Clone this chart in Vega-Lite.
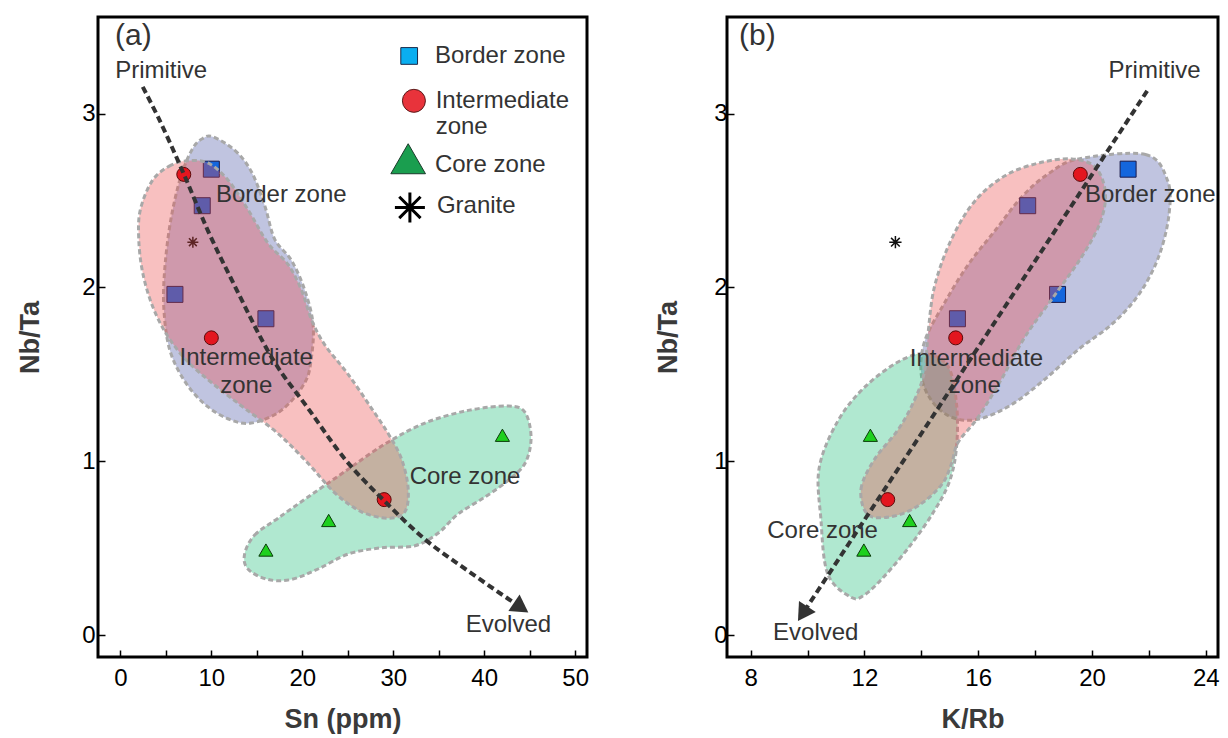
{
  "$schema": "https://vega.github.io/schema/vega-lite/v6.json",
  "padding": {"left": 15, "top": 15, "right": 10, "bottom": 8},
  "autosize": {"type": "pad"},
  "spacing": 62,
  "config": {
    "font": "Liberation Sans",
    "view": {"stroke": "#000", "strokeWidth": 3},
    "axis": {
      "domain": false, "grid": false,
      "tickColor": "#000", "tickWidth": 1.5, "tickSize": -7,
      "labelFont": "Liberation Sans", "labelFontSize": 24, "labelColor": "#000",
      "labelFlush": false, "labelOverlap": false, "labelBound": false,
      "titleFont": "Liberation Sans", "titleFontSize": 27, "titleFontWeight": "bold", "titleColor": "#3a3a3a"
    }
  },
  "datasets": {
    "samples": [
      {"zone": "Border zone", "Sn": 10, "KRb": 21.27, "NbTa": 2.68},
      {"zone": "Border zone", "Sn": 9, "KRb": 17.74, "NbTa": 2.47},
      {"zone": "Border zone", "Sn": 6, "KRb": 18.79, "NbTa": 1.96},
      {"zone": "Border zone", "Sn": 16, "KRb": 15.27, "NbTa": 1.82},
      {"zone": "Intermediate zone", "Sn": 6.97, "KRb": 19.59, "NbTa": 2.65},
      {"zone": "Intermediate zone", "Sn": 10, "KRb": 15.21, "NbTa": 1.71},
      {"zone": "Intermediate zone", "Sn": 29, "KRb": 12.82, "NbTa": 0.78},
      {"zone": "Core zone", "Sn": 42, "KRb": 12.21, "NbTa": 1.15},
      {"zone": "Core zone", "Sn": 22.9, "KRb": 13.59, "NbTa": 0.66},
      {"zone": "Core zone", "Sn": 16, "KRb": 11.98, "NbTa": 0.49},
      {"zone": "Granite", "Sn": 7.97, "KRb": 13.09, "NbTa": 2.26}
    ],
    "zonesA": [
      {"zone": "Border zone", "i": 0, "Sn": 10.17, "NbTa": 2.866},
      {"zone": "Border zone", "i": 1, "Sn": 12.56, "NbTa": 2.789},
      {"zone": "Border zone", "i": 2, "Sn": 14.39, "NbTa": 2.667},
      {"zone": "Border zone", "i": 3, "Sn": 15.86, "NbTa": 2.472},
      {"zone": "Border zone", "i": 4, "Sn": 16.96, "NbTa": 2.278},
      {"zone": "Border zone", "i": 5, "Sn": 18.8, "NbTa": 2.156},
      {"zone": "Border zone", "i": 6, "Sn": 20.26, "NbTa": 1.986},
      {"zone": "Border zone", "i": 7, "Sn": 21.18, "NbTa": 1.791},
      {"zone": "Border zone", "i": 8, "Sn": 21.0, "NbTa": 1.597},
      {"zone": "Border zone", "i": 9, "Sn": 20.26, "NbTa": 1.451},
      {"zone": "Border zone", "i": 10, "Sn": 17.69, "NbTa": 1.293},
      {"zone": "Border zone", "i": 11, "Sn": 14.39, "NbTa": 1.22},
      {"zone": "Border zone", "i": 12, "Sn": 11.82, "NbTa": 1.245},
      {"zone": "Border zone", "i": 13, "Sn": 9.25, "NbTa": 1.33},
      {"zone": "Border zone", "i": 14, "Sn": 7.05, "NbTa": 1.463},
      {"zone": "Border zone", "i": 15, "Sn": 5.4, "NbTa": 1.646},
      {"zone": "Border zone", "i": 16, "Sn": 4.77, "NbTa": 1.889},
      {"zone": "Border zone", "i": 17, "Sn": 4.92, "NbTa": 2.132},
      {"zone": "Border zone", "i": 18, "Sn": 5.58, "NbTa": 2.399},
      {"zone": "Border zone", "i": 19, "Sn": 6.68, "NbTa": 2.643},
      {"zone": "Border zone", "i": 20, "Sn": 7.97, "NbTa": 2.801},
      {"zone": "Border zone", "i": 21, "Sn": 9.07, "NbTa": 2.857},
      {"zone": "Intermediate zone", "i": 0, "Sn": 7.42, "NbTa": 2.728},
      {"zone": "Intermediate zone", "i": 1, "Sn": 5.58, "NbTa": 2.703},
      {"zone": "Intermediate zone", "i": 2, "Sn": 3.56, "NbTa": 2.618},
      {"zone": "Intermediate zone", "i": 3, "Sn": 2.2, "NbTa": 2.448},
      {"zone": "Intermediate zone", "i": 4, "Sn": 2.02, "NbTa": 2.278},
      {"zone": "Intermediate zone", "i": 5, "Sn": 2.46, "NbTa": 2.083},
      {"zone": "Intermediate zone", "i": 6, "Sn": 3.56, "NbTa": 1.889},
      {"zone": "Intermediate zone", "i": 7, "Sn": 5.21, "NbTa": 1.719},
      {"zone": "Intermediate zone", "i": 8, "Sn": 7.42, "NbTa": 1.573},
      {"zone": "Intermediate zone", "i": 9, "Sn": 10.35, "NbTa": 1.439},
      {"zone": "Intermediate zone", "i": 10, "Sn": 13.66, "NbTa": 1.305},
      {"zone": "Intermediate zone", "i": 11, "Sn": 17.33, "NbTa": 1.16},
      {"zone": "Intermediate zone", "i": 12, "Sn": 20.63, "NbTa": 0.989},
      {"zone": "Intermediate zone", "i": 13, "Sn": 23.57, "NbTa": 0.819},
      {"zone": "Intermediate zone", "i": 14, "Sn": 26.51, "NbTa": 0.71},
      {"zone": "Intermediate zone", "i": 15, "Sn": 29.44, "NbTa": 0.673},
      {"zone": "Intermediate zone", "i": 16, "Sn": 31.28, "NbTa": 0.71},
      {"zone": "Intermediate zone", "i": 17, "Sn": 31.64, "NbTa": 0.843},
      {"zone": "Intermediate zone", "i": 18, "Sn": 30.91, "NbTa": 1.014},
      {"zone": "Intermediate zone", "i": 19, "Sn": 29.44, "NbTa": 1.16},
      {"zone": "Intermediate zone", "i": 20, "Sn": 27.61, "NbTa": 1.305},
      {"zone": "Intermediate zone", "i": 21, "Sn": 25.04, "NbTa": 1.5},
      {"zone": "Intermediate zone", "i": 22, "Sn": 22.47, "NbTa": 1.67},
      {"zone": "Intermediate zone", "i": 23, "Sn": 21.0, "NbTa": 1.816},
      {"zone": "Intermediate zone", "i": 24, "Sn": 19.9, "NbTa": 1.986},
      {"zone": "Intermediate zone", "i": 25, "Sn": 18.43, "NbTa": 2.132},
      {"zone": "Intermediate zone", "i": 26, "Sn": 16.23, "NbTa": 2.254},
      {"zone": "Intermediate zone", "i": 27, "Sn": 14.02, "NbTa": 2.448},
      {"zone": "Intermediate zone", "i": 28, "Sn": 11.82, "NbTa": 2.618},
      {"zone": "Intermediate zone", "i": 29, "Sn": 9.62, "NbTa": 2.716},
      {"zone": "Core zone", "i": 0, "Sn": 13.66, "NbTa": 0.467},
      {"zone": "Core zone", "i": 1, "Sn": 14.76, "NbTa": 0.576},
      {"zone": "Core zone", "i": 2, "Sn": 17.33, "NbTa": 0.673},
      {"zone": "Core zone", "i": 3, "Sn": 20.63, "NbTa": 0.795},
      {"zone": "Core zone", "i": 4, "Sn": 24.67, "NbTa": 0.941},
      {"zone": "Core zone", "i": 5, "Sn": 29.07, "NbTa": 1.099},
      {"zone": "Core zone", "i": 6, "Sn": 33.48, "NbTa": 1.22},
      {"zone": "Core zone", "i": 7, "Sn": 38.25, "NbTa": 1.293},
      {"zone": "Core zone", "i": 8, "Sn": 42.66, "NbTa": 1.318},
      {"zone": "Core zone", "i": 9, "Sn": 44.49, "NbTa": 1.281},
      {"zone": "Core zone", "i": 10, "Sn": 45.15, "NbTa": 1.135},
      {"zone": "Core zone", "i": 11, "Sn": 44.49, "NbTa": 0.989},
      {"zone": "Core zone", "i": 12, "Sn": 42.66, "NbTa": 0.892},
      {"zone": "Core zone", "i": 13, "Sn": 40.09, "NbTa": 0.795},
      {"zone": "Core zone", "i": 14, "Sn": 37.15, "NbTa": 0.698},
      {"zone": "Core zone", "i": 15, "Sn": 34.95, "NbTa": 0.588},
      {"zone": "Core zone", "i": 16, "Sn": 32.38, "NbTa": 0.515},
      {"zone": "Core zone", "i": 17, "Sn": 28.71, "NbTa": 0.503},
      {"zone": "Core zone", "i": 18, "Sn": 25.04, "NbTa": 0.467},
      {"zone": "Core zone", "i": 19, "Sn": 21.73, "NbTa": 0.381},
      {"zone": "Core zone", "i": 20, "Sn": 18.8, "NbTa": 0.321},
      {"zone": "Core zone", "i": 21, "Sn": 16.23, "NbTa": 0.321},
      {"zone": "Core zone", "i": 22, "Sn": 14.02, "NbTa": 0.381}
    ],
    "zonesB": [
      {"zone": "Border zone", "i": 0, "KRb": 19.53, "NbTa": 2.739},
      {"zone": "Border zone", "i": 1, "KRb": 21.88, "NbTa": 2.764},
      {"zone": "Border zone", "i": 2, "KRb": 22.65, "NbTa": 2.618},
      {"zone": "Border zone", "i": 3, "KRb": 22.71, "NbTa": 2.423},
      {"zone": "Border zone", "i": 4, "KRb": 22.35, "NbTa": 2.179},
      {"zone": "Border zone", "i": 5, "KRb": 21.65, "NbTa": 1.96},
      {"zone": "Border zone", "i": 6, "KRb": 20.71, "NbTa": 1.79},
      {"zone": "Border zone", "i": 7, "KRb": 19.53, "NbTa": 1.644},
      {"zone": "Border zone", "i": 8, "KRb": 18.35, "NbTa": 1.473},
      {"zone": "Border zone", "i": 9, "KRb": 17.18, "NbTa": 1.327},
      {"zone": "Border zone", "i": 10, "KRb": 16.0, "NbTa": 1.242},
      {"zone": "Border zone", "i": 11, "KRb": 15.06, "NbTa": 1.254},
      {"zone": "Border zone", "i": 12, "KRb": 14.35, "NbTa": 1.352},
      {"zone": "Border zone", "i": 13, "KRb": 14.0, "NbTa": 1.498},
      {"zone": "Border zone", "i": 14, "KRb": 14.12, "NbTa": 1.692},
      {"zone": "Border zone", "i": 15, "KRb": 14.82, "NbTa": 1.912},
      {"zone": "Border zone", "i": 16, "KRb": 15.65, "NbTa": 2.131},
      {"zone": "Border zone", "i": 17, "KRb": 16.59, "NbTa": 2.326},
      {"zone": "Border zone", "i": 18, "KRb": 17.53, "NbTa": 2.52},
      {"zone": "Border zone", "i": 19, "KRb": 18.47, "NbTa": 2.654},
      {"zone": "Intermediate zone", "i": 0, "KRb": 12.12, "NbTa": 0.694},
      {"zone": "Intermediate zone", "i": 1, "KRb": 11.88, "NbTa": 0.84},
      {"zone": "Intermediate zone", "i": 2, "KRb": 12.35, "NbTa": 1.011},
      {"zone": "Intermediate zone", "i": 3, "KRb": 13.18, "NbTa": 1.181},
      {"zone": "Intermediate zone", "i": 4, "KRb": 13.76, "NbTa": 1.352},
      {"zone": "Intermediate zone", "i": 5, "KRb": 14.12, "NbTa": 1.522},
      {"zone": "Intermediate zone", "i": 6, "KRb": 14.24, "NbTa": 1.741},
      {"zone": "Intermediate zone", "i": 7, "KRb": 14.47, "NbTa": 2.009},
      {"zone": "Intermediate zone", "i": 8, "KRb": 15.06, "NbTa": 2.277},
      {"zone": "Intermediate zone", "i": 9, "KRb": 15.88, "NbTa": 2.496},
      {"zone": "Intermediate zone", "i": 10, "KRb": 16.94, "NbTa": 2.642},
      {"zone": "Intermediate zone", "i": 11, "KRb": 18.12, "NbTa": 2.715},
      {"zone": "Intermediate zone", "i": 12, "KRb": 19.29, "NbTa": 2.739},
      {"zone": "Intermediate zone", "i": 13, "KRb": 20.12, "NbTa": 2.691},
      {"zone": "Intermediate zone", "i": 14, "KRb": 20.47, "NbTa": 2.545},
      {"zone": "Intermediate zone", "i": 15, "KRb": 20.29, "NbTa": 2.374},
      {"zone": "Intermediate zone", "i": 16, "KRb": 19.65, "NbTa": 2.179},
      {"zone": "Intermediate zone", "i": 17, "KRb": 18.71, "NbTa": 1.96},
      {"zone": "Intermediate zone", "i": 18, "KRb": 17.65, "NbTa": 1.717},
      {"zone": "Intermediate zone", "i": 19, "KRb": 16.82, "NbTa": 1.473},
      {"zone": "Intermediate zone", "i": 20, "KRb": 16.0, "NbTa": 1.254},
      {"zone": "Intermediate zone", "i": 21, "KRb": 15.29, "NbTa": 1.108},
      {"zone": "Intermediate zone", "i": 22, "KRb": 15.06, "NbTa": 0.986},
      {"zone": "Intermediate zone", "i": 23, "KRb": 14.71, "NbTa": 0.865},
      {"zone": "Intermediate zone", "i": 24, "KRb": 13.88, "NbTa": 0.743},
      {"zone": "Intermediate zone", "i": 25, "KRb": 12.94, "NbTa": 0.682},
      {"zone": "Core zone", "i": 0, "KRb": 11.53, "NbTa": 0.219},
      {"zone": "Core zone", "i": 1, "KRb": 10.71, "NbTa": 0.353},
      {"zone": "Core zone", "i": 2, "KRb": 10.47, "NbTa": 0.67},
      {"zone": "Core zone", "i": 3, "KRb": 10.41, "NbTa": 0.962},
      {"zone": "Core zone", "i": 4, "KRb": 11.06, "NbTa": 1.23},
      {"zone": "Core zone", "i": 5, "KRb": 12.0, "NbTa": 1.425},
      {"zone": "Core zone", "i": 6, "KRb": 13.18, "NbTa": 1.571},
      {"zone": "Core zone", "i": 7, "KRb": 14.12, "NbTa": 1.619},
      {"zone": "Core zone", "i": 8, "KRb": 14.94, "NbTa": 1.546},
      {"zone": "Core zone", "i": 9, "KRb": 15.24, "NbTa": 1.327},
      {"zone": "Core zone", "i": 10, "KRb": 15.24, "NbTa": 1.084},
      {"zone": "Core zone", "i": 11, "KRb": 15.0, "NbTa": 0.889},
      {"zone": "Core zone", "i": 12, "KRb": 14.47, "NbTa": 0.719},
      {"zone": "Core zone", "i": 13, "KRb": 13.65, "NbTa": 0.524},
      {"zone": "Core zone", "i": 14, "KRb": 12.71, "NbTa": 0.341},
      {"zone": "Core zone", "i": 15, "KRb": 12.0, "NbTa": 0.232}
    ],
    "trendA": [
      {"i": 0, "Sn": 2.46, "NbTa": 3.153},
      {"i": 1, "Sn": 4.11, "NbTa": 2.983},
      {"i": 2, "Sn": 7.05, "NbTa": 2.643},
      {"i": 3, "Sn": 9.62, "NbTa": 2.327},
      {"i": 4, "Sn": 12.56, "NbTa": 2.01},
      {"i": 5, "Sn": 16.78, "NbTa": 1.585},
      {"i": 6, "Sn": 20.63, "NbTa": 1.305},
      {"i": 7, "Sn": 24.67, "NbTa": 1.014},
      {"i": 8, "Sn": 29.07, "NbTa": 0.77},
      {"i": 9, "Sn": 33.48, "NbTa": 0.552},
      {"i": 10, "Sn": 38.25, "NbTa": 0.369},
      {"i": 11, "Sn": 44.06, "NbTa": 0.159}
    ],
    "trendB": [
      {"i": 0, "KRb": 21.94, "NbTa": 3.13},
      {"i": 1, "KRb": 9.83, "NbTa": 0.124}
    ],
    "notesA": [
      {"label": "Primitive", "Sn": 4.48, "NbTa": 3.243},
      {"label": "Border zone", "Sn": 17.69, "NbTa": 2.533},
      {"label": "Intermediate", "Sn": 13.84, "NbTa": 1.592},
      {"label": "zone", "Sn": 13.84, "NbTa": 1.434},
      {"label": "Core zone", "Sn": 37.89, "NbTa": 0.911},
      {"label": "Evolved", "Sn": 42.66, "NbTa": 0.058}
    ],
    "notesB": [
      {"label": "Primitive", "KRb": 22.2, "NbTa": 3.243},
      {"label": "Border zone", "KRb": 22.05, "NbTa": 2.533},
      {"label": "Intermediate", "KRb": 15.94, "NbTa": 1.59},
      {"label": "zone", "KRb": 15.88, "NbTa": 1.434},
      {"label": "Core zone", "KRb": 10.53, "NbTa": 0.597},
      {"label": "Evolved", "KRb": 10.29, "NbTa": 0.013}
    ],
    "keyA": [
      {"zone": "Border zone", "Sn": 31.75, "NbTa": 3.331},
      {"zone": "Intermediate zone", "Sn": 32.27, "NbTa": 3.073},
      {"zone": "Core zone", "Sn": 31.64, "NbTa": 2.74},
      {"zone": "Granite", "Sn": 31.83, "NbTa": 2.46}
    ],
    "keyTextA": [
      {"label": "Border zone", "Sn": 34.58, "NbTa": 3.331},
      {"label": "Intermediate", "Sn": 34.66, "NbTa": 3.073},
      {"label": "zone", "Sn": 34.66, "NbTa": 2.922},
      {"label": "Core zone", "Sn": 34.58, "NbTa": 2.703},
      {"label": "Granite", "Sn": 34.8, "NbTa": 2.468}
    ]
  },
  "hconcat": [
    {
      "width": 489,
      "height": 640,
      "encoding": {
        "x": {
          "field": "Sn", "type": "quantitative",
          "scale": {"domain": [-2.46, 51.3], "nice": false, "zero": false},
          "axis": {
            "title": "Sn (ppm)",
            "values": [0, 5, 10, 15, 20, 25, 30, 35, 40, 45, 50],
            "format": "d",
            "labelExpr": "datum.value % 10 === 0 ? datum.label : ''",
            "labelPadding": 16, "titlePadding": 16
          }
        },
        "y": {
          "field": "NbTa", "type": "quantitative",
          "scale": {"domain": [-0.125, 3.555], "nice": false, "zero": false},
          "axis": {
            "title": "Nb/Ta",
            "values": [0, 0.5, 1, 1.5, 2, 2.5, 3],
            "format": "d",
            "labelExpr": "datum.value % 1 === 0 ? datum.label : ''",
            "labelPadding": 10, "titlePadding": 37
          }
        }
      },
      "layer": [
        {
          "data": {"name": "zonesA"},
          "transform": [{"filter": "datum.zone === 'Border zone'"}],
          "mark": {"type": "line", "interpolate": "cardinal-closed", "fill": "#4b56a6", "fillOpacity": 0.35, "stroke": "#a8a8a8", "strokeWidth": 3, "strokeDash": [5, 3]},
          "encoding": {"order": {"field": "i"}}
        },
        {
          "data": {"name": "zonesA"},
          "transform": [{"filter": "datum.zone === 'Core zone'"}],
          "mark": {"type": "line", "interpolate": "cardinal-closed", "fill": "#1dbd79", "fillOpacity": 0.35, "stroke": "#a8a8a8", "strokeWidth": 3, "strokeDash": [5, 3]},
          "encoding": {"order": {"field": "i"}}
        },
        {
          "data": {"name": "samples"},
          "transform": [{"filter": "datum.zone === 'Border zone'"}],
          "mark": {"type": "point", "shape": "square", "filled": true, "fill": "#1466dd", "stroke": "#1a1a4a", "strokeWidth": 1, "size": 256, "opacity": 1}
        },
        {
          "data": {"name": "samples"},
          "transform": [{"filter": "datum.zone === 'Granite'"}],
          "mark": {"type": "point", "shape": "M-1,0L1,0M0,-1L0,1M-0.71,-0.71L0.71,0.71M-0.71,0.71L0.71,-0.71", "filled": false, "stroke": "#111", "strokeWidth": 1.5, "size": 121, "opacity": 1}
        },
        {
          "data": {"name": "zonesA"},
          "transform": [{"filter": "datum.zone === 'Intermediate zone'"}],
          "mark": {"type": "line", "interpolate": "cardinal-closed", "fill": "#eb4b4b", "fillOpacity": 0.35, "stroke": "#a8a8a8", "strokeWidth": 3, "strokeDash": [5, 3]},
          "encoding": {"order": {"field": "i"}}
        },
        {
          "data": {"name": "samples"},
          "transform": [{"filter": "datum.zone === 'Intermediate zone'"}],
          "mark": {"type": "point", "shape": "circle", "filled": true, "fill": "#e3161f", "stroke": "#5a0a0a", "strokeWidth": 1, "size": 196, "opacity": 1}
        },
        {
          "data": {"name": "samples"},
          "transform": [{"filter": "datum.zone === 'Core zone'"}],
          "mark": {"type": "point", "shape": "triangle-up", "filled": true, "fill": "#1ed01e", "stroke": "#0a3a0a", "strokeWidth": 1, "size": 200, "opacity": 1}
        },
        {
          "data": {"name": "trendA"},
          "mark": {"type": "line", "interpolate": "monotone", "stroke": "#333", "strokeWidth": 4, "strokeDash": [7, 4]},
          "encoding": {"order": {"field": "i"}}
        },
        {
          "data": {"name": "trendA"},
          "transform": [{"filter": "datum.i === 11"}],
          "mark": {"type": "point", "shape": "triangle-up", "filled": true, "fill": "#333", "stroke": null, "size": 400, "angle": 124, "opacity": 1}
        },
        {
          "data": {"values": [{"tag": "(a)", "Sn": 1.43, "NbTa": 3.445}]},
          "mark": {"type": "text", "font": "Liberation Sans", "fontSize": 30, "fill": "#333", "align": "center", "baseline": "middle"},
          "encoding": {"text": {"field": "tag"}}
        },
        {
          "data": {"name": "notesA"},
          "mark": {"type": "text", "font": "Liberation Sans", "fontSize": 24, "fill": "#333", "align": "center", "baseline": "middle"},
          "encoding": {"text": {"field": "label"}}
        },
        {
          "data": {"name": "keyA"},
          "transform": [{"filter": "datum.zone === 'Border zone'"}],
          "mark": {"type": "point", "shape": "square", "filled": true, "fill": "#0aaef0", "stroke": "#1a2a4a", "strokeWidth": 1, "size": 280, "opacity": 1}
        },
        {
          "data": {"name": "keyA"},
          "transform": [{"filter": "datum.zone === 'Intermediate zone'"}],
          "mark": {"type": "point", "shape": "circle", "filled": true, "fill": "#e8333b", "stroke": "#5a1a1a", "strokeWidth": 1, "size": 530, "opacity": 1}
        },
        {
          "data": {"name": "keyA"},
          "transform": [{"filter": "datum.zone === 'Core zone'"}],
          "mark": {"type": "point", "shape": "triangle-up", "filled": true, "fill": "#1a9e4f", "stroke": "#1a3a2a", "strokeWidth": 1, "size": 1200, "opacity": 1}
        },
        {
          "data": {"name": "keyA"},
          "transform": [{"filter": "datum.zone === 'Granite'"}],
          "mark": {"type": "point", "shape": "M-1,0L1,0M0,-1L0,1M-0.71,-0.71L0.71,0.71M-0.71,0.71L0.71,-0.71", "filled": false, "stroke": "#000", "strokeWidth": 3, "size": 900, "opacity": 1}
        },
        {
          "data": {"name": "keyTextA"},
          "mark": {"type": "text", "font": "Liberation Sans", "fontSize": 24, "fill": "#333", "align": "left", "baseline": "middle"},
          "encoding": {"text": {"field": "label"}}
        }
      ]
    },
    {
      "width": 491,
      "height": 640,
      "encoding": {
        "x": {
          "field": "KRb", "type": "quantitative",
          "scale": {"domain": [7.17, 24.43], "nice": false, "zero": false},
          "axis": {
            "title": "K/Rb",
            "values": [8, 10, 12, 14, 16, 18, 20, 22, 24],
            "format": "d",
            "labelExpr": "datum.value % 4 === 0 ? datum.label : ''",
            "labelPadding": 16, "titlePadding": 16
          }
        },
        "y": {
          "field": "NbTa", "type": "quantitative",
          "scale": {"domain": [-0.125, 3.555], "nice": false, "zero": false},
          "axis": {
            "title": "Nb/Ta",
            "values": [0, 0.5, 1, 1.5, 2, 2.5, 3],
            "format": "d",
            "labelExpr": "datum.value % 1 === 0 ? datum.label : ''",
            "labelPadding": 7, "titlePadding": 31
          }
        }
      },
      "layer": [
        {
          "data": {"name": "zonesB"},
          "transform": [{"filter": "datum.zone === 'Border zone'"}],
          "mark": {"type": "line", "interpolate": "cardinal-closed", "fill": "#4b56a6", "fillOpacity": 0.35, "stroke": "#a8a8a8", "strokeWidth": 3, "strokeDash": [5, 3]},
          "encoding": {"order": {"field": "i"}}
        },
        {
          "data": {"name": "zonesB"},
          "transform": [{"filter": "datum.zone === 'Core zone'"}],
          "mark": {"type": "line", "interpolate": "cardinal-closed", "fill": "#1dbd79", "fillOpacity": 0.35, "stroke": "#a8a8a8", "strokeWidth": 3, "strokeDash": [5, 3]},
          "encoding": {"order": {"field": "i"}}
        },
        {
          "data": {"name": "samples"},
          "transform": [{"filter": "datum.zone === 'Border zone'"}],
          "mark": {"type": "point", "shape": "square", "filled": true, "fill": "#1466dd", "stroke": "#1a1a4a", "strokeWidth": 1, "size": 256, "opacity": 1}
        },
        {
          "data": {"name": "samples"},
          "transform": [{"filter": "datum.zone === 'Granite'"}],
          "mark": {"type": "point", "shape": "M-1,0L1,0M0,-1L0,1M-0.71,-0.71L0.71,0.71M-0.71,0.71L0.71,-0.71", "filled": false, "stroke": "#111", "strokeWidth": 1.5, "size": 150, "opacity": 1}
        },
        {
          "data": {"name": "zonesB"},
          "transform": [{"filter": "datum.zone === 'Intermediate zone'"}],
          "mark": {"type": "line", "interpolate": "cardinal-closed", "fill": "#eb4b4b", "fillOpacity": 0.35, "stroke": "#a8a8a8", "strokeWidth": 3, "strokeDash": [5, 3]},
          "encoding": {"order": {"field": "i"}}
        },
        {
          "data": {"name": "samples"},
          "transform": [{"filter": "datum.zone === 'Intermediate zone'"}],
          "mark": {"type": "point", "shape": "circle", "filled": true, "fill": "#e3161f", "stroke": "#5a0a0a", "strokeWidth": 1, "size": 196, "opacity": 1}
        },
        {
          "data": {"name": "samples"},
          "transform": [{"filter": "datum.zone === 'Core zone'"}],
          "mark": {"type": "point", "shape": "triangle-up", "filled": true, "fill": "#1ed01e", "stroke": "#0a3a0a", "strokeWidth": 1, "size": 200, "opacity": 1}
        },
        {
          "data": {"name": "trendB"},
          "mark": {"type": "line", "stroke": "#333", "strokeWidth": 4, "strokeDash": [7, 4]},
          "encoding": {"order": {"field": "i"}}
        },
        {
          "data": {"name": "trendB"},
          "transform": [{"filter": "datum.i === 1"}],
          "mark": {"type": "point", "shape": "triangle-up", "filled": true, "fill": "#333", "stroke": null, "size": 400, "angle": 213, "opacity": 1}
        },
        {
          "data": {"values": [{"tag": "(b)", "KRb": 8.235, "NbTa": 3.445}]},
          "mark": {"type": "text", "font": "Liberation Sans", "fontSize": 30, "fill": "#333", "align": "center", "baseline": "middle"},
          "encoding": {"text": {"field": "tag"}}
        },
        {
          "data": {"name": "notesB"},
          "mark": {"type": "text", "font": "Liberation Sans", "fontSize": 24, "fill": "#333", "align": "center", "baseline": "middle"},
          "encoding": {"text": {"field": "label"}}
        }
      ]
    }
  ]
}
